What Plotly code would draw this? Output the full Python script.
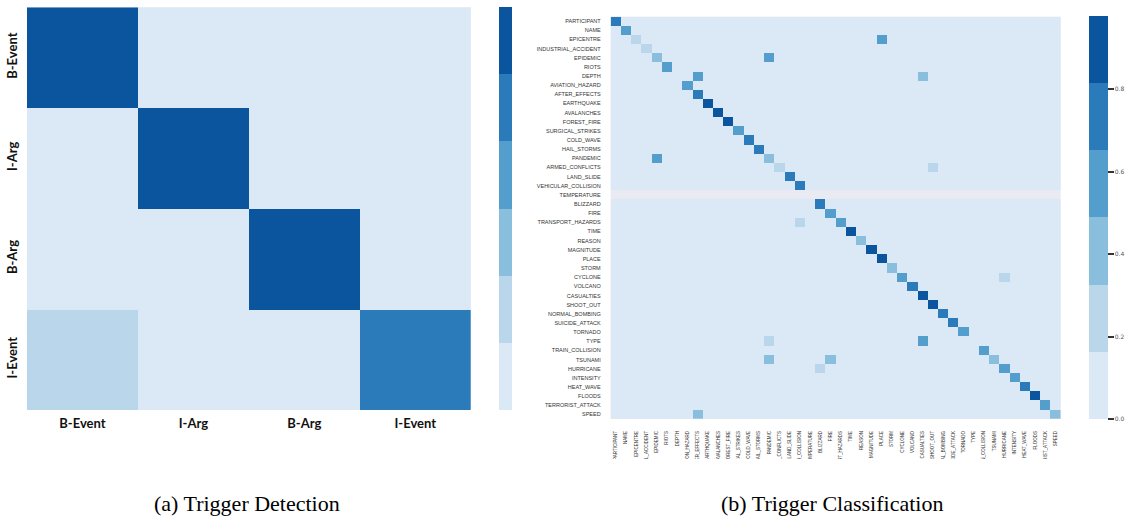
import numpy as np
import plotly.graph_objects as go

# ---------------- data ----------------
labels_a = ["B-Event", "I-Arg", "B-Arg", "I-Event"]
row_b_event = [1.00, 0.00, 0.00, 0.00]
row_i_arg = [0.00, 1.00, 0.00, 0.00]
row_b_arg = [0.00, 0.00, 1.00, 0.00]
row_i_event = [0.25, 0.00, 0.00, 0.75]

labels_b = [
    "PARTICIPANT", "NAME", "EPICENTRE", "INDUSTRIAL_ACCIDENT", "EPIDEMIC", "RIOTS",
    "DEPTH", "AVIATION_HAZARD", "AFTER_EFFECTS", "EARTHQUAKE", "AVALANCHES",
    "FOREST_FIRE", "SURGICAL_STRIKES", "COLD_WAVE", "HAIL_STORMS", "PANDEMIC",
    "ARMED_CONFLICTS", "LAND_SLIDE", "VEHICULAR_COLLISION", "TEMPERATURE",
    "BLIZZARD", "FIRE", "TRANSPORT_HAZARDS", "TIME", "REASON", "MAGNITUDE",
    "PLACE", "STORM", "CYCLONE", "VOLCANO", "CASUALTIES", "SHOOT_OUT",
    "NORMAL_BOMBING", "SUICIDE_ATTACK", "TORNADO", "TYPE", "TRAIN_COLLISION",
    "TSUNAMI", "HURRICANE", "INTENSITY", "HEAT_WAVE", "FLOODS",
    "TERRORIST_ATTACK", "SPEED",
]
# diagonal (correctly classified share); None = no samples (NaN row)
diag_b = [
    0.73, 0.57, 0.25, 0.25, 0.40, 0.60, 0.00, 0.57, 0.73, 0.93, 0.93,
    0.93, 0.57, 0.73, 0.73, 0.40, 0.25, 0.73, 0.73, None,
    0.73, 0.57, 0.57, 0.95, 0.40, 0.95, 0.95, 0.40, 0.57, 0.73,
    0.95, 0.95, 0.73, 0.73, 0.57, 0.00, 0.57, 0.40, 0.57, 0.57,
    0.73, 0.976, 0.57, 0.40,
]
# off-diagonal confusions: (true label, predicted label, share)
off_true = ["EPICENTRE", "EPIDEMIC", "DEPTH", "DEPTH", "PANDEMIC", "ARMED_CONFLICTS",
            "TRANSPORT_HAZARDS", "CYCLONE", "TYPE", "TYPE", "TSUNAMI", "TSUNAMI",
            "HURRICANE", "SPEED"]
off_pred = ["PLACE", "PANDEMIC", "AFTER_EFFECTS", "CASUALTIES", "EPIDEMIC", "SHOOT_OUT",
            "VEHICULAR_COLLISION", "HURRICANE", "PANDEMIC", "CASUALTIES", "PANDEMIC", "FIRE",
            "BLIZZARD", "AFTER_EFFECTS"]
off_val = [0.57, 0.57, 0.57, 0.40, 0.57, 0.25,
           0.25, 0.25, 0.25, 0.57, 0.40, 0.40,
           0.25, 0.40]

blues6 = ["#dbe9f6", "#bad6eb", "#89bedc", "#539ecd", "#2b7bba", "#0b559f"]

# ---------------- build matrices ----------------
z_a = [row_b_event, row_i_arg, row_b_arg, row_i_event]

n = len(labels_b)
z_b = np.zeros((n, n))
for i, v in enumerate(diag_b):
    if v is None:
        z_b[i, :] = np.nan
    else:
        z_b[i, i] = v
for t, p, v in zip(off_true, off_pred, off_val):
    z_b[labels_b.index(t), labels_b.index(p)] = v


def discrete_scale(colors):
    k = len(colors)
    scale = []
    for i, c in enumerate(colors):
        scale.append([i / k, c])
        scale.append([(i + 1) / k, c])
    return scale


cs = discrete_scale(blues6)

W, H = 1134, 518


def px_x(a, b):
    return [a / W, b / W]


def px_y(top, bottom):
    return [1 - bottom / H, 1 - top / H]


fig = go.Figure()

fig.add_trace(go.Heatmap(
    z=z_a, x=labels_a, y=labels_a, colorscale=cs,
    zmin=0, zmax=float(np.nanmax(z_a)),
    xaxis="x", yaxis="y",
    colorbar=dict(
        x=499 / W, xanchor="left", xpad=0, ypad=0, thickness=13,
        lenmode="fraction", len=(410 - 7.3) / H, y=1 - 410 / H, yanchor="bottom",
        showticklabels=False, ticks="", outlinewidth=0,
    ),
))

fig.add_trace(go.Heatmap(
    z=z_b, x=labels_b, y=labels_b, colorscale=cs,
    zmin=0, zmax=float(np.nanmax(z_b)),
    xaxis="x2", yaxis="y2",
    colorbar=dict(
        x=1089 / W, xanchor="left", xpad=0, ypad=0, thickness=19,
        lenmode="fraction", len=(419.3 - 16.3) / H, y=1 - 419.3 / H, yanchor="bottom",
        tickvals=[0, 0.2, 0.4, 0.6, 0.8], ticktext=["0.0", "0.2", "0.4", "0.6", "0.8"],
        ticks="outside", ticklen=6, tickwidth=1.5, tickcolor="#333333",
        tickfont=dict(family="DejaVu Sans", size=6, color="#555555"),
        outlinewidth=0,
    ),
))

bold_font = dict(family="Lato", size=13, color="#111111", weight=700)
small_font = dict(family="Liberation Sans", size=5.5, color="#333333")

fig.update_layout(
    width=W, height=H, autosize=False,
    margin=dict(l=0, r=0, t=0, b=0, pad=0),
    paper_bgcolor="white", plot_bgcolor="#eaeaf2",
    showlegend=False,
    xaxis=dict(domain=px_x(27, 470.7), anchor="y", showgrid=False, zeroline=False,
               showline=False, ticks="", ticklabelstandoff=4,
               tickfont=bold_font),
    yaxis=dict(domain=px_y(7.3, 410), anchor="x", autorange="reversed",
               showgrid=False, zeroline=False, showline=False, ticks="",
               tickangle=-90, ticklabelstandoff=6, tickfont=bold_font),
    xaxis2=dict(domain=px_x(610.7, 1060.7), anchor="y2", showgrid=False,
                zeroline=False, showline=False, ticks="", tickangle=-90,
                tickmode="linear", dtick=1, ticklabelstandoff=10,
                tickfont=dict(family="Liberation Sans", size=4.5, color="#333333")),
    yaxis2=dict(domain=px_y(16.7, 419), anchor="x2", autorange="reversed",
                showgrid=False, zeroline=False, showline=False, ticks="",
                tickmode="linear", dtick=1, ticklabelstandoff=9,
                tickfont=small_font),
    shapes=[dict(type="rect", xref="paper", yref="paper",
                 x0=590 / W, x1=1, y0=1 - 487 / H, y1=1 - 459 / H,
                 fillcolor="white", line=dict(width=0), layer="above")],
    annotations=[
        dict(text="(a) Trigger Detection", xref="paper", yref="paper",
             x=247 / W, y=1 - 503 / H, xanchor="center", yanchor="middle",
             showarrow=False, font=dict(family="Liberation Serif", size=22, color="black")),
        dict(text="(b) Trigger Classification", xref="paper", yref="paper",
             x=832 / W, y=1 - 503 / H, xanchor="center", yanchor="middle",
             showarrow=False, font=dict(family="Liberation Serif", size=22, color="black")),
    ],
)

fig.write_html("out.html", config={"displayModeBar": False},
               post_script="document.body.style.margin='0px';")
